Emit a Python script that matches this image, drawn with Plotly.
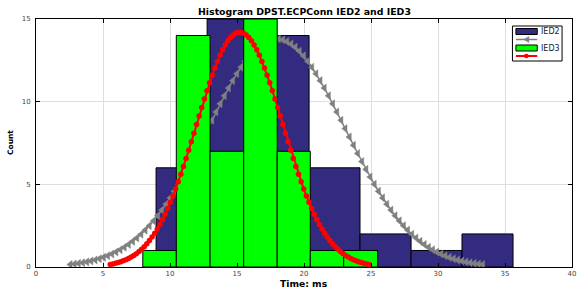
import numpy as np
import plotly.graph_objects as go

# ---------------- data ----------------
ied2_edges = [8.96, 12.77, 16.57, 20.38, 24.18, 27.99, 31.79, 35.60]
ied2_counts = [6, 15, 14, 6, 2, 1, 2]
ied3_edges = [7.97, 10.47, 12.99, 15.50, 18.00, 20.47, 22.96, 25.50]
ied3_counts = [1, 14, 7, 15, 7, 1, 1]

# normal fits (histfit): mean, std, peak height of the scaled pdf
ied2_fit_mean = 17.95
ied2_fit_std = 5.13
ied2_fit_peak = 13.8
ied3_fit_mean = 15.2
ied3_fit_std = 3.22
ied3_fit_peak = 14.2

x_ticks = [0, 5, 10, 15, 20, 25, 30, 35, 40]
y_ticks = [0, 5, 10, 15]
series_names = ["IED2", "IED3"]

title_text = "Histogram DPST.ECPConn IED2 and IED3"
x_label = "Time: ms"
y_label = "Count"

# ---------------- styling ----------------
W, H = 577, 288
ML, MR, MT, MB = 36, 1, 19, 21
BLUE = "#332b80"
GREEN = "#00ff00"
GRAY = "#808080"
RED = "#ff0000"
FONT = "DejaVu Sans"


def fit_curve(mu, sd, peak, n=100):
    xs = np.linspace(mu - 3 * sd, mu + 3 * sd, n)
    ys = peak * np.exp(-0.5 * ((xs - mu) / sd) ** 2)
    return xs, ys


def bar_trace(edges, counts, color, name, xa, ya):
    e = np.asarray(edges, dtype=float)
    return go.Bar(
        x=e[:-1], y=counts, width=np.diff(e), offset=0,
        marker=dict(color=color, line=dict(color="black", width=1)),
        name=name, showlegend=False, xaxis=xa, yaxis=ya,
    )


fig = go.Figure()
fig.add_trace(bar_trace(ied2_edges, ied2_counts, BLUE, series_names[0], "x", "y"))
gx, gy = fit_curve(ied2_fit_mean, ied2_fit_std, ied2_fit_peak)
fig.add_trace(go.Scatter(
    x=gx, y=gy, mode="lines+markers", showlegend=False, xaxis="x", yaxis="y",
    line=dict(color=GRAY, width=1.5),
    marker=dict(symbol="triangle-left", size=7, color=GRAY, line=dict(color=GRAY, width=0.5)),
))
fig.add_trace(bar_trace(ied3_edges, ied3_counts, GREEN, series_names[1], "x2", "y2"))
rx, ry = fit_curve(ied3_fit_mean, ied3_fit_std, ied3_fit_peak)
fig.add_trace(go.Scatter(
    x=rx, y=ry, mode="lines+markers", showlegend=False, xaxis="x2", yaxis="y2",
    line=dict(color=RED, width=2),
    marker=dict(symbol="circle", size=5.5, color=RED),
))

pw, ph = W - ML - MR, H - MT - MB


def px(xp):
    return (xp - ML) / pw


def py(yp):
    return (H - MB - yp) / ph


axis_common = dict(
    showline=True, linecolor="black", linewidth=1, mirror="ticks",
    ticks="inside", ticklen=4, tickwidth=1, tickcolor="black",
    showgrid=True, gridcolor="#dedede", gridwidth=1, zeroline=False,
    tickfont=dict(family=FONT, size=7, color="#444444"),
    ticklabeloverflow="allow",
)

fig.update_layout(
    width=W, height=H,
    margin=dict(l=ML, r=MR, t=MT, b=MB, pad=0),
    paper_bgcolor="white", plot_bgcolor="white",
    barmode="overlay", showlegend=False,
    xaxis=dict(range=[0, 40], tickvals=x_ticks, **axis_common),
    yaxis=dict(range=[0, 15], tickvals=y_ticks, ticklabelstandoff=3, **axis_common),
    xaxis2=dict(range=[0, 40], overlaying="x", visible=False),
    yaxis2=dict(range=[0, 15], overlaying="y", visible=False),
)

annotations = [
    dict(text="<b>%s</b>" % title_text, xref="paper", yref="paper", x=0.5, y=1,
         xanchor="center", yanchor="bottom", yshift=0, showarrow=False,
         font=dict(family=FONT, size=9.4, color="black")),
    dict(text="<b>%s</b>" % x_label, xref="paper", yref="paper", x=0.5, y=0,
         xanchor="center", yanchor="top", yshift=-9, showarrow=False,
         font=dict(family=FONT, size=9.2, color="black")),
    dict(text="<b>%s</b>" % y_label, xref="paper", yref="paper", x=0, y=0.5,
         xanchor="center", yanchor="middle", xshift=-26, textangle=-90, showarrow=False,
         font=dict(family=FONT, size=7.5, color="black")),
]

# legend (drawn as a box in paper space)
shapes = [
    dict(type="rect", xref="paper", yref="paper", x0=px(516), x1=px(566), y0=py(26), y1=py(61),
         fillcolor="white", line=dict(color="black", width=1)),
    dict(type="rect", xref="paper", yref="paper", x0=px(519.5), x1=px(541), y0=py(28.5), y1=py(34.5),
         fillcolor=BLUE, line=dict(color="black", width=1)),
    dict(type="line", xref="paper", yref="paper", x0=px(519.5), x1=px(541), y0=py(39.5), y1=py(39.5),
         line=dict(color=GRAY, width=1.5)),
    dict(type="path", xref="paper", yref="paper",
         path="M %f,%f L %f,%f L %f,%f Z" % (px(527.5), py(39.5), px(532.5), py(36.5), px(532.5), py(42.5)),
         fillcolor=GRAY, line=dict(color=GRAY, width=0.5)),
    dict(type="rect", xref="paper", yref="paper", x0=px(519.5), x1=px(541), y0=py(45), y1=py(51),
         fillcolor=GREEN, line=dict(color="black", width=1)),
    dict(type="line", xref="paper", yref="paper", x0=px(519.5), x1=px(541), y0=py(56), y1=py(56),
         line=dict(color=RED, width=2)),
    dict(type="circle", xref="paper", yref="paper", x0=px(527.7), x1=px(532.3), y0=py(53.7), y1=py(58.3),
         fillcolor=RED, line=dict(color=RED, width=0)),
]
for name, yc in zip(series_names, [31.5, 48]):
    annotations.append(dict(text=name, xref="paper", yref="paper", x=px(543), y=py(yc),
                            xanchor="left", yanchor="middle", showarrow=False,
                            font=dict(family=FONT, size=8, color="#222222")))

fig.update_layout(annotations=annotations, shapes=shapes)
fig.write_html("out.html", config={"displayModeBar": False},
               post_script="document.body.style.margin='0';document.body.style.overflow='hidden';")
